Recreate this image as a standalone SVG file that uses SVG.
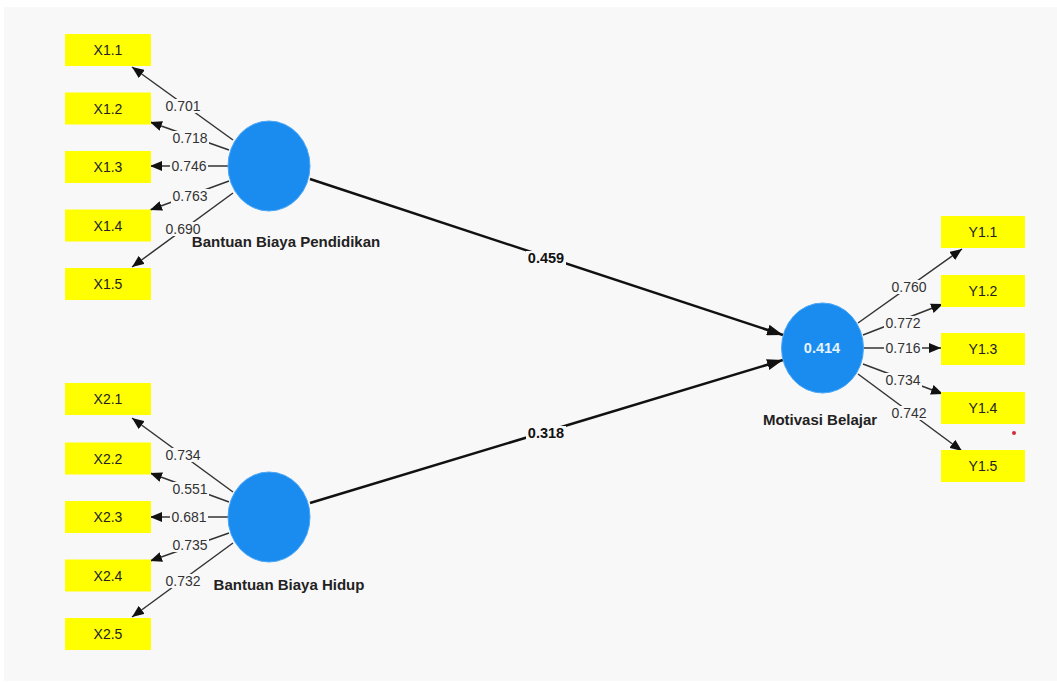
<svg xmlns="http://www.w3.org/2000/svg" width="1057" height="682" viewBox="0 0 1057 682">
<style>
.ind rect{fill:#ffff00}
.ind text{font-family:"Liberation Sans",Arial,sans-serif;font-size:14px;fill:#222;text-anchor:middle}
.lv ellipse{fill:#1a8cf0;stroke:#4aa6f5;stroke-width:1}
.lvl{font-family:"Liberation Sans",Arial,sans-serif;font-size:15px;font-weight:bold;fill:#222;text-anchor:middle}
.ld{stroke:#333;stroke-width:1.5;fill:none}
.st{stroke:#111;stroke-width:2.5;fill:none}
.lb{fill:#f9f8f9}
.lt{font-family:"Liberation Sans",Arial,sans-serif;font-size:14px;fill:#333;text-anchor:middle}
.pt{font-family:"Liberation Sans",Arial,sans-serif;font-size:14.5px;font-weight:bold;fill:#111;text-anchor:middle}
</style>
<defs>
<marker id="a" viewBox="0 0 12 10" refX="12" refY="5" markerWidth="12" markerHeight="10" markerUnits="userSpaceOnUse" orient="auto"><path d="M0,0 L12,5 L0,10 z" fill="#111"/></marker>
<marker id="b" viewBox="0 0 16 11" refX="16" refY="5.5" markerWidth="16" markerHeight="11" markerUnits="userSpaceOnUse" orient="auto"><path d="M0,0 L16,5.5 L0,11 z" fill="#111"/></marker>
</defs>
<rect width="1057" height="682" fill="#ffffff"/>
<rect x="4" y="7" width="1053" height="674" fill="#f9f8f9"/>

<g id="connectors">
<line class="ld" x1="233" y1="140" x2="132" y2="67" marker-end="url(#a)"/>
<line class="ld" x1="229" y1="150" x2="150" y2="122" marker-end="url(#a)"/>
<line class="ld" x1="228" y1="166" x2="150" y2="166" marker-end="url(#a)"/>
<line class="ld" x1="229" y1="181" x2="150" y2="210" marker-end="url(#a)"/>
<line class="ld" x1="233" y1="193" x2="132" y2="267" marker-end="url(#a)"/>

<line class="ld" x1="233" y1="492" x2="132" y2="418" marker-end="url(#a)"/>
<line class="ld" x1="229" y1="502" x2="150" y2="473" marker-end="url(#a)"/>
<line class="ld" x1="228" y1="517" x2="150" y2="517" marker-end="url(#a)"/>
<line class="ld" x1="229" y1="533" x2="150" y2="561" marker-end="url(#a)"/>
<line class="ld" x1="233" y1="543" x2="132" y2="617" marker-end="url(#a)"/>

<line class="ld" x1="858" y1="323" x2="962" y2="249" marker-end="url(#a)"/>
<line class="ld" x1="863" y1="335" x2="943" y2="304" marker-end="url(#a)"/>
<line class="ld" x1="864" y1="348" x2="941" y2="348" marker-end="url(#a)"/>
<line class="ld" x1="863" y1="364" x2="943" y2="394" marker-end="url(#a)"/>
<line class="ld" x1="858" y1="374" x2="962" y2="451" marker-end="url(#a)"/>

<line class="st" x1="310" y1="179" x2="783" y2="335" marker-end="url(#b)"/>
<line class="st" x1="310" y1="503" x2="783" y2="360" marker-end="url(#b)"/>

<g id="labels">
<rect class="lb" x="164" y="99" width="38" height="14"/><text class="lt" x="183" y="111">0.701</text>
<rect class="lb" x="171" y="131" width="38" height="14"/><text class="lt" x="190" y="143">0.718</text>
<rect class="lb" x="170" y="159" width="38" height="14"/><text class="lt" x="189" y="171">0.746</text>
<rect class="lb" x="171" y="189" width="38" height="14"/><text class="lt" x="190" y="201">0.763</text>
<rect class="lb" x="164" y="222" width="38" height="14"/><text class="lt" x="183" y="234">0.690</text>

<rect class="lb" x="164" y="448" width="38" height="14"/><text class="lt" x="183" y="460">0.734</text>
<rect class="lb" x="171" y="482" width="38" height="14"/><text class="lt" x="190" y="494">0.551</text>
<rect class="lb" x="170" y="510" width="38" height="14"/><text class="lt" x="189" y="522">0.681</text>
<rect class="lb" x="171" y="538" width="38" height="14"/><text class="lt" x="190" y="550">0.735</text>
<rect class="lb" x="164" y="574" width="38" height="14"/><text class="lt" x="183" y="586">0.732</text>

<rect class="lb" x="890" y="280" width="38" height="14"/><text class="lt" x="909" y="292">0.760</text>
<rect class="lb" x="884" y="316" width="38" height="14"/><text class="lt" x="903" y="328">0.772</text>
<rect class="lb" x="884" y="341" width="38" height="14"/><text class="lt" x="903" y="353">0.716</text>
<rect class="lb" x="884" y="373" width="38" height="14"/><text class="lt" x="903" y="385">0.734</text>
<rect class="lb" x="890" y="406" width="38" height="14"/><text class="lt" x="909" y="418">0.742</text>

<rect class="lb" x="526" y="251" width="40" height="15"/><text class="pt" x="546" y="263">0.459</text>
<rect class="lb" x="526" y="426" width="40" height="15"/><text class="pt" x="546" y="438">0.318</text>
</g>
</g>

<g id="X1.1" class="ind"><rect x="65" y="34" width="86" height="32"/><text x="108" y="55">X1.1</text></g>
<g id="X1.2" class="ind"><rect x="65" y="92.5" width="86" height="32"/><text x="108" y="113.5">X1.2</text></g>
<g id="X1.3" class="ind"><rect x="65" y="151" width="86" height="32"/><text x="108" y="172">X1.3</text></g>
<g id="X1.4" class="ind"><rect x="65" y="209.5" width="86" height="32"/><text x="108" y="230.5">X1.4</text></g>
<g id="X1.5" class="ind"><rect x="65" y="268" width="86" height="32"/><text x="108" y="289">X1.5</text></g>

<g id="X2.1" class="ind"><rect x="65" y="383" width="86" height="32"/><text x="108" y="404">X2.1</text></g>
<g id="X2.2" class="ind"><rect x="65" y="442.5" width="86" height="32"/><text x="108" y="463.5">X2.2</text></g>
<g id="X2.3" class="ind"><rect x="65" y="501" width="86" height="32"/><text x="108" y="522">X2.3</text></g>
<g id="X2.4" class="ind"><rect x="65" y="559.5" width="86" height="32"/><text x="108" y="580.5">X2.4</text></g>
<g id="X2.5" class="ind"><rect x="65" y="618" width="86" height="32"/><text x="108" y="639">X2.5</text></g>

<g id="Y1.1" class="ind"><rect x="941" y="216" width="84" height="32"/><text x="983" y="237">Y1.1</text></g>
<g id="Y1.2" class="ind"><rect x="941" y="275" width="84" height="32"/><text x="983" y="296">Y1.2</text></g>
<g id="Y1.3" class="ind"><rect x="941" y="333" width="84" height="32"/><text x="983" y="354">Y1.3</text></g>
<g id="Y1.4" class="ind"><rect x="941" y="392" width="84" height="32"/><text x="983" y="413">Y1.4</text></g>
<g id="Y1.5" class="ind"><rect x="941" y="450" width="84" height="32"/><text x="983" y="471">Y1.5</text></g>

<g id="BantuanBiayaPendidikan" class="lv">
<ellipse cx="269" cy="166" rx="41" ry="45"/>
<text class="lvl" x="286" y="247">Bantuan Biaya Pendidikan</text>
</g>
<g id="BantuanBiayaHidup" class="lv">
<ellipse cx="269" cy="517" rx="41" ry="45"/>
<text class="lvl" x="289" y="590">Bantuan Biaya Hidup</text>
</g>
<g id="MotivasiBelajar" class="lv">
<ellipse cx="822.5" cy="348" rx="41" ry="45"/>
<text x="822" y="353" style="font-family:'Liberation Sans',Arial,sans-serif;font-size:14.5px;font-weight:bold;fill:#e8f3ff;text-anchor:middle">0.414</text>
<text class="lvl" x="820" y="425">Motivasi Belajar</text>
</g>
<circle cx="1014" cy="433" r="2" fill="#d42a3a"/>
</svg>
